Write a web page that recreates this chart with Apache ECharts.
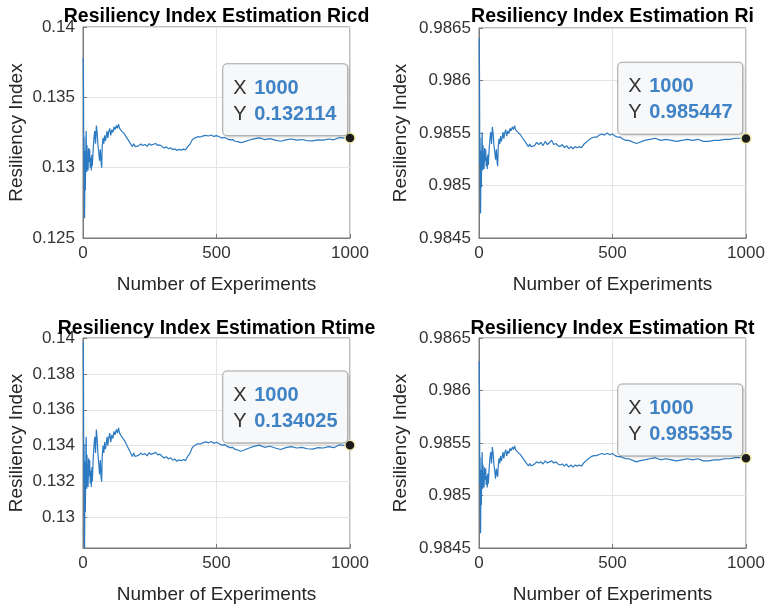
<!DOCTYPE html>
<html><head><meta charset="utf-8">
<script src="https://cdn.jsdelivr.net/npm/echarts@6/dist/echarts.min.js"></script>
<style>html,body{margin:0;padding:0;background:#fff}#c{width:769px;height:605px}</style>
</head><body><div id="c"></div>
<script>
const experiments = [1,2,3,4,5,6,7,8,9,10,11,12,13,14,15,17,19,21,23,25,27,29,31,33,35,38,41,44,47,50,53,56,59,62,65,68,70,72,75,78,81,84,87,90,93,96,100,104,108,112,116,120,125,129,133,137,141,145,150,155,160,165,170,175,180,185,190,195,200,
208,216,224,232,240,248,256,264,272,280,288,296,304,312,320,328,336,344,352,360,368,376,384,392,400,
410,420,430,440,450,460,470,480,490,500,510,520,530,540,550,560,570,580,590,600,
620,640,660,680,700,720,740,760,780,800,820,840,860,880,900,920,940,960,980,1000];

const ricd = [0.1378,0.1356,0.1301,0.1322,0.1280,0.1264,0.1293,0.1312,0.1284,0.1305,0.1320,0.1326,0.1309,0.1297,0.1316,0.1302,0.1298,0.1314,0.1304,0.1313,0.1300,0.1307,0.1298,0.1309,0.1301,0.1313,0.1321,0.1326,0.1317,0.1330,0.1325,0.1316,0.1311,0.1305,0.1313,0.1303,0.1300,0.1315,0.1321,0.1317,0.1323,0.1319,0.1322,0.1326,0.1321,0.1325,0.1328,0.1323,0.1327,0.1325,0.1329,0.1327,0.1330,0.1328,0.1331,0.1328,0.1329,0.1326,0.1327,0.1324,0.1323,0.1321,0.1320,0.1318,0.1317,0.1315,0.1317,0.1315,0.1316,
0.13155,0.13168,0.13158,0.13165,0.13152,0.13170,0.13160,0.13166,0.13172,0.13158,0.13162,0.13150,0.13140,0.13148,0.13135,0.13142,0.13128,0.13135,0.13122,0.13130,0.13125,0.13132,0.13126,0.13150,0.13165,
0.13200,0.13212,0.13220,0.13218,0.13226,0.13230,0.13225,0.13232,0.13222,0.13228,0.13220,0.13212,0.13215,0.13205,0.13198,0.13200,0.13188,0.13185,0.13178,0.13182,
0.13195,0.13205,0.13212,0.13200,0.13206,0.13196,0.13188,0.13198,0.13204,0.13196,0.13200,0.13192,0.13190,0.13198,0.13196,0.13204,0.13198,0.13214,0.13210,0.132114];

const ri = [0.98640,0.98602,0.985195,0.985458,0.984933,0.984733,0.985095,0.985333,0.984983,0.985245,0.985433,0.985508,0.985295,0.985145,0.985383,0.985208,0.985158,0.985358,0.985233,0.985345,0.985183,0.985270,0.985158,0.985295,0.985195,0.985345,0.985445,0.985508,0.985395,0.985558,0.985495,0.985383,0.985320,0.985245,0.985345,0.985220,0.985183,0.985370,0.985445,0.985395,0.985470,0.985420,0.985458,0.985508,0.985445,0.985495,0.985533,0.985470,0.985520,0.985495,0.985545,0.985520,0.985558,0.985533,0.985570,0.985533,0.985545,0.985508,0.985520,0.985483,0.985470,0.985445,0.985433,0.985408,0.985395,0.985370,0.985395,0.985370,0.985383,
0.98538,0.98541,0.98539,0.98541,0.98538,0.98542,0.98539,0.98541,0.98543,0.98539,0.98540,0.98538,0.98537,0.98539,0.98536,0.98538,0.98535,0.98537,0.98535,0.98537,0.98536,0.98537,0.98536,0.98539,0.98541,
0.98543,0.98545,0.98546,0.98546,0.98548,0.98549,0.98548,0.98550,0.98548,0.98549,0.98547,0.98546,0.98546,0.98544,0.98543,0.98543,0.98542,0.98541,0.98540,0.98541,
0.98543,0.98544,0.98545,0.98543,0.98544,0.98543,0.98542,0.98543,0.98544,0.98543,0.98544,0.98542,0.98542,0.98543,0.98543,0.98544,0.98544,0.98545,0.98545,0.985447];

const rtime = [0.1398,0.1375,0.1320,0.1341,0.1299,0.1283,0.1312,0.1331,0.1303,0.1324,0.1339,0.1345,0.1328,0.1316,0.1335,0.1321,0.1317,0.1333,0.1323,0.1332,0.1319,0.1326,0.1317,0.1328,0.1320,0.1332,0.1340,0.1345,0.1336,0.1349,0.1344,0.1335,0.1330,0.1324,0.1332,0.1322,0.1320,0.1334,0.1340,0.1336,0.1342,0.1338,0.1341,0.1345,0.1340,0.1344,0.1347,0.1342,0.1346,0.1344,0.1348,0.1346,0.1349,0.1347,0.1350,0.1347,0.1348,0.1345,0.1346,0.1343,0.1342,0.1340,0.1339,0.1337,0.1336,0.1334,0.1336,0.1334,0.1335,
0.13346,0.13359,0.13349,0.13356,0.13343,0.13361,0.13351,0.13357,0.13363,0.13349,0.13353,0.13341,0.13331,0.13339,0.13326,0.13333,0.13319,0.13326,0.13313,0.13321,0.13316,0.13323,0.13317,0.13341,0.13356,
0.13391,0.13403,0.13411,0.13409,0.13417,0.13421,0.13416,0.13423,0.13413,0.13419,0.13411,0.13403,0.13406,0.13396,0.13389,0.13391,0.13379,0.13376,0.13369,0.13373,
0.13386,0.13396,0.13403,0.13391,0.13397,0.13387,0.13379,0.13389,0.13395,0.13387,0.13391,0.13383,0.13381,0.13389,0.13387,0.13395,0.13389,0.13405,0.13401,0.134025];

const rt = [0.98628,0.98591,0.985113,0.985365,0.984861,0.98464,0.985017,0.985245,0.984909,0.985161,0.985341,0.985413,0.985209,0.985065,0.985293,0.985125,0.985077,0.985269,0.985149,0.985257,0.985101,0.985185,0.985077,0.985209,0.985113,0.985257,0.985353,0.985413,0.985305,0.985461,0.985401,0.985293,0.985233,0.985161,0.985257,0.98520,0.98518,0.985281,0.985353,0.985305,0.985377,0.985329,0.985365,0.985413,0.985353,0.985401,0.985437,0.985377,0.985425,0.985401,0.985449,0.985425,0.985461,0.985437,0.985473,0.985437,0.985449,0.985413,0.985425,0.985389,0.985377,0.985353,0.985341,0.985317,0.985305,0.985281,0.985305,0.985281,0.985293,
0.98530,0.98532,0.98531,0.98532,0.98530,0.98533,0.98531,0.98532,0.98533,0.98531,0.98532,0.98530,0.98529,0.98530,0.98528,0.98530,0.98527,0.98529,0.98527,0.98529,0.98528,0.98529,0.98528,0.98531,0.98533,
0.98535,0.98537,0.98538,0.98538,0.98539,0.98540,0.98539,0.98540,0.98539,0.98540,0.98538,0.98537,0.98537,0.98536,0.98535,0.98535,0.98534,0.98533,0.98532,0.98533,
0.98534,0.98535,0.98536,0.98534,0.98535,0.98534,0.98533,0.98534,0.98535,0.98534,0.98535,0.98533,0.98533,0.98534,0.98534,0.98535,0.98535,0.98536,0.98536,0.985355];

const titles = ['Resiliency Index Estimation Ricd','Resiliency Index Estimation Ri','Resiliency Index Estimation Rtime','Resiliency Index Estimation Rt'];
const xTicks = [0, 500, 1000];
const yTicksRicd = [0.125, 0.13, 0.135, 0.14];
const yTicksR = [0.9845, 0.985, 0.9855, 0.986, 0.9865];
const yTicksRtime = [0.13, 0.132, 0.134, 0.136, 0.138, 0.14];
const tipX = [1000, 1000, 1000, 1000];
const tipY = [0.132114, 0.985447, 0.134025, 0.985355];
const xName = 'Number of Experiments';
const yName = 'Resiliency Index';

const FONT = '"Liberation Sans", Arial, Helvetica, sans-serif';
const panels = [
  {data: ricd, grid:{left:83, top:27, width:267, height:211}, min:0.125, max:0.14, ticks:yTicksRicd, gap:57, off:[-121,-68]},
  {data: ri, grid:{left:479, top:28, width:267, height:210}, min:0.9845, max:0.9865, ticks:yTicksR, gap:69, off:[-122,-70]},
  {data: rtime, grid:{left:83, top:338, width:267, height:211}, min:0.1283, max:0.14, ticks:yTicksRtime, gap:57, off:[-121,-68]},
  {data: rt, grid:{left:479, top:338, width:267, height:211}, min:0.9845, max:0.9865, ticks:yTicksR, gap:69, off:[-122,-68]}
];
const titleTops = [7, 7, 319, 319];
const axisColor = '#7a7a7a';
const gridColor = '#e4e4e4';

const option = {
  animation: false,
  backgroundColor: '#fff',
  grid: panels.map(p => Object.assign({show:true, borderColor:axisColor, borderWidth:1, containLabel:false}, p.grid)),
  xAxis: panels.map((p, i) => ({
    type:'value', gridIndex:i, min:0, max:1000, interval:500,
    name: xName, nameLocation:'middle', nameGap:37,
    nameTextStyle:{fontSize:19, color:'#262626', fontFamily:FONT},
    axisLine:{show:true, lineStyle:{color:axisColor}},
    axisTick:{show:true, inside:true, length:4, lineStyle:{color:axisColor}},
    axisLabel:{fontSize:17, color:'#333', fontFamily:FONT, margin:7, formatter: v => String(v)},
    splitLine:{show:true, lineStyle:{color:gridColor, width:1}}
  })),
  yAxis: panels.map((p, i) => ({
    type:'value', gridIndex:i, min:p.min, max:p.max,
    name: yName, nameLocation:'middle', nameGap:p.gap,
    nameTextStyle:{fontSize:19, color:'#262626', fontFamily:FONT},
    axisLine:{show:true, lineStyle:{color:axisColor}},
    axisTick:{show:true, inside:true, length:4, lineStyle:{color:axisColor}, customValues:p.ticks},
    axisLabel:{fontSize:17, color:'#333', fontFamily:FONT, margin:8, customValues:p.ticks, showMinLabel:true, showMaxLabel:true},
    splitLine:{show:true, lineStyle:{color:gridColor, width:1}}
  })),
  graphic: titles.map((t, i) => ({
    type:'text', x: panels[i].grid.left + panels[i].grid.width/2, y: titleTops[i], z: 100,
    style:{text:t, fontSize:19.5, fontWeight:'bold', fontFamily:FONT, fill:'#000', align:'center', verticalAlign:'top'}
  })),
  series: panels.map((p, i) => ({
    type:'line', xAxisIndex:i, yAxisIndex:i, showSymbol:false, symbol:'none',
    data: experiments.map((x, j) => [x, p.data[j]]),
    lineStyle:{color:'#2c7ac1', width:1.2},
    clip:true,
    markPoint:{
      symbol:'circle', symbolSize:10, silent:true, animation:false,
      itemStyle:{color:'#1c1c1c', borderColor:'#f1ecb0', borderWidth:1.5},
      data:[{coord:[tipX[i], tipY[i]]}],
      label:{
        show:true, position:p.off, align:'left', verticalAlign:'top',
        formatter: '{k|X }{v|' + tipX[i] + '}\n{k|Y }{v|' + tipY[i].toFixed(6) + '}',
        backgroundColor:'#f7f8fa', borderColor:'#a9a9a9', borderWidth:1, borderRadius:4,
        padding:[11,10,8,10], width:104, lineHeight:26,
        shadowColor:'rgba(0,0,0,0.12)', shadowBlur:3, shadowOffsetX:1, shadowOffsetY:1,
        rich:{
          k:{fontSize:20, color:'#333', fontFamily:FONT, lineHeight:26, padding:[0,2,0,0]},
          v:{fontSize:20, fontWeight:'bold', color:'#3f82c6', fontFamily:FONT, lineHeight:26}
        }
      }
    }
  }))
};
const chart = echarts.init(document.getElementById('c'), null, {renderer:'canvas'});
chart.setOption(option);
</script>
</body></html>
